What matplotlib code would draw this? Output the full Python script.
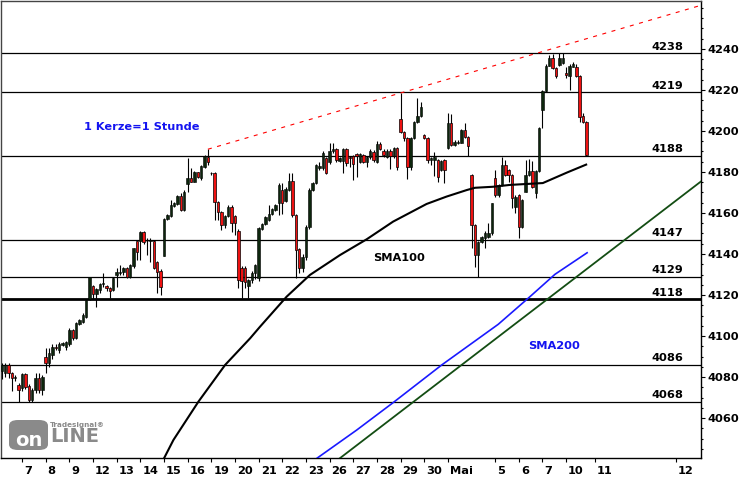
import matplotlib
matplotlib.use('Agg')
import matplotlib.pyplot as plt
import numpy as np
from matplotlib.patches import FancyBboxPatch
from matplotlib.ticker import MultipleLocator
import matplotlib.transforms as mtransforms

plt.rcParams['font.family'] = ['DejaVu Sans']
plt.rcParams['font.weight'] = 'bold'

# ---------------- data (hourly candles, index = candle number) ----------------
opens = [4083.0, 4082.0, 4086.0, 4082.0, 4079.5, 4076.0, 4074.5, 4081.5, 4075.8, 4068.8,
         4073.7, 4079.4, 4073.7, 4089.9, 4086.7, 4090.7, 4094.8, 4093.2, 4095.7, 4094.8,
         4096.1, 4103.0, 4098.9, 4106.0, 4107.0, 4109.4, 4118.2, 4124.4, 4120.5, 4122.4,
         4125.3, 4124.6, 4123.2, 4122.4, 4129.8, 4130.6, 4131.1, 4133.0, 4129.0, 4134.1,
         4146.3, 4146.3, 4150.6, 4146.3, 4146.3, 4146.3, 4135.9, 4131.7, 4139.2, 4157.1,
         4158.5, 4163.6, 4164.4, 4168.3, 4161.5, 4174.0, 4176.9, 4175.3, 4179.8, 4176.9,
         4182.6, 4187.5, 4179.4, 4179.4, 4165.5, 4160.6, 4154.1, 4158.5, 4163.1, 4158.5,
         4151.4, 4133.3, 4133.0, 4124.4, 4127.3, 4130.6, 4128.1, 4152.0, 4154.6, 4156.6,
         4159.5, 4161.5, 4164.7, 4171.0, 4166.0, 4171.0, 4175.6, 4159.0, 4142.3, 4133.0,
         4138.7, 4153.3, 4171.2, 4174.5, 4181.8, 4181.8, 4186.7, 4185.0, 4190.0, 4191.1,
         4185.5, 4185.5, 4191.1, 4187.5, 4187.8, 4188.8, 4185.0, 4188.3, 4185.0, 4187.2,
         4189.9, 4185.0, 4193.7, 4190.4, 4187.5, 4190.4, 4187.8, 4191.5, 4205.7, 4199.7,
         4196.4, 4182.6, 4196.4, 4204.6, 4207.3, 4198.0, 4196.4, 4185.9, 4185.9, 4185.9,
         4181.0, 4185.9, 4191.5, 4204.1, 4193.2, 4194.0, 4194.3, 4200.5, 4196.9, 4178.5,
         4154.1, 4139.5, 4146.0, 4147.6, 4148.5, 4150.1, 4176.9, 4168.8, 4173.7, 4183.4,
         4181.0, 4178.5, 4163.0, 4168.8, 4153.3, 4170.4, 4178.5, 4180.5, 4169.6, 4180.5,
         4210.0, 4219.5, 4231.9, 4235.5, 4230.6, 4232.2, 4233.0, 4228.5, 4227.0, 4231.4,
         4231.4, 4227.0, 4207.5, 4204.6]
highs = [4087.0, 4087.0, 4087.0, 4082.5, 4081.0, 4077.0, 4082.0, 4082.0, 4076.5, 4074.5,
         4081.8, 4082.0, 4081.0, 4094.0, 4094.0, 4096.0, 4096.0, 4097.0, 4097.0, 4097.5,
         4104.0, 4103.5, 4107.0, 4108.5, 4111.0, 4118.0, 4129.0, 4125.0, 4123.5, 4126.0,
         4130.6, 4125.0, 4124.0, 4129.0, 4133.0, 4134.6, 4133.5, 4133.5, 4135.0, 4143.0,
         4146.5, 4151.0, 4151.0, 4147.6, 4147.6, 4147.0, 4136.5, 4132.5, 4157.5, 4159.5,
         4166.3, 4165.5, 4169.0, 4169.6, 4171.0, 4186.7, 4181.8, 4180.5, 4180.2, 4183.5,
         4188.5, 4191.1, 4180.2, 4180.0, 4166.0, 4161.0, 4159.0, 4163.9, 4163.9, 4159.0,
         4152.0, 4134.0, 4134.0, 4128.0, 4131.5, 4135.0, 4153.0, 4155.0, 4158.5, 4163.9,
         4162.5, 4164.5, 4174.8, 4174.5, 4172.5, 4179.4, 4179.4, 4159.5, 4142.8, 4140.0,
         4154.0, 4172.0, 4175.0, 4184.0, 4185.0, 4190.4, 4187.5, 4194.0, 4194.3, 4191.5,
         4187.5, 4191.5, 4191.5, 4188.0, 4188.5, 4189.5, 4189.5, 4189.0, 4187.8, 4191.0,
         4190.5, 4195.0, 4194.5, 4191.0, 4191.0, 4191.0, 4192.0, 4192.0, 4218.4, 4200.2,
         4197.0, 4197.0, 4205.0, 4215.9, 4214.3, 4198.5, 4197.0, 4187.2, 4189.9, 4186.5,
         4186.0, 4186.5, 4208.9, 4208.3, 4195.5, 4195.5, 4201.0, 4203.7, 4197.5, 4179.0,
         4154.5, 4146.5, 4149.0, 4151.0, 4154.9, 4165.0, 4180.9, 4174.0, 4187.5, 4185.9,
         4181.5, 4179.0, 4169.0, 4169.5, 4167.0, 4185.9, 4186.3, 4185.5, 4181.0, 4202.0,
         4220.0, 4232.5, 4237.1, 4237.5, 4231.0, 4237.9, 4237.9, 4231.4, 4232.5, 4233.5,
         4232.5, 4227.5, 4208.6, 4205.0]
lows = [4079.0, 4080.0, 4079.4, 4073.0, 4078.0, 4068.0, 4073.0, 4074.0, 4068.0, 4068.0,
        4072.0, 4072.0, 4071.0, 4082.0, 4085.0, 4089.0, 4093.0, 4091.6, 4095.0, 4093.2,
        4095.0, 4098.0, 4098.5, 4105.5, 4106.5, 4109.0, 4117.5, 4118.0, 4114.3, 4121.0,
        4124.0, 4122.0, 4118.4, 4122.0, 4124.1, 4130.0, 4130.0, 4128.5, 4128.5, 4133.0,
        4137.1, 4137.1, 4145.0, 4139.5, 4136.3, 4132.5, 4120.8, 4120.0, 4139.0, 4156.5,
        4158.0, 4163.0, 4164.0, 4161.0, 4161.0, 4170.4, 4175.0, 4175.0, 4177.0, 4176.0,
        4182.0, 4183.5, 4178.5, 4156.6, 4156.6, 4151.7, 4152.5, 4158.0, 4150.9, 4149.3,
        4123.2, 4118.4, 4123.2, 4118.4, 4126.0, 4128.0, 4127.0, 4151.5, 4154.0, 4156.0,
        4159.0, 4161.0, 4159.0, 4159.5, 4165.5, 4170.5, 4158.0, 4128.1, 4130.6, 4131.0,
        4137.0, 4152.0, 4170.5, 4174.0, 4181.0, 4181.0, 4179.0, 4184.0, 4189.5, 4185.0,
        4185.0, 4179.4, 4182.9, 4182.3, 4176.1, 4177.4, 4184.5, 4184.5, 4182.3, 4186.5,
        4185.0, 4184.5, 4190.5, 4187.5, 4187.0, 4181.3, 4187.0, 4181.0, 4199.0, 4195.0,
        4176.4, 4181.0, 4196.0, 4204.0, 4207.0, 4196.0, 4184.2, 4183.4, 4178.0, 4175.3,
        4180.5, 4174.5, 4191.0, 4192.5, 4192.5, 4193.5, 4194.0, 4196.5, 4187.8, 4142.8,
        4133.8, 4128.9, 4145.5, 4142.8, 4148.0, 4149.5, 4168.0, 4168.0, 4173.0, 4178.0,
        4175.3, 4162.6, 4160.0, 4147.6, 4152.5, 4170.0, 4178.0, 4172.0, 4167.5, 4180.0,
        4201.3, 4219.0, 4231.5, 4230.0, 4225.7, 4231.5, 4232.5, 4225.7, 4220.0, 4231.0,
        4226.5, 4204.6, 4204.0, 4188.0]
closes = [4086.0, 4086.0, 4082.0, 4079.5, 4080.0, 4073.7, 4081.5, 4075.3, 4068.8, 4073.7,
          4079.4, 4073.7, 4080.2, 4086.7, 4091.6, 4094.8, 4094.0, 4096.1, 4096.4, 4096.9,
          4103.0, 4098.9, 4106.2, 4107.8, 4110.2, 4117.6, 4128.6, 4120.5, 4122.8, 4125.4,
          4125.8, 4123.3, 4122.1, 4128.1, 4131.1, 4131.0, 4133.0, 4129.0, 4134.6, 4142.8,
          4141.1, 4150.6, 4146.0, 4146.5, 4146.6, 4133.0, 4131.4, 4124.1, 4157.1, 4159.0,
          4163.9, 4165.0, 4168.3, 4161.5, 4170.4, 4176.9, 4175.3, 4179.8, 4177.4, 4182.9,
          4187.8, 4185.0, 4179.6, 4165.5, 4160.6, 4154.1, 4158.5, 4163.1, 4155.3, 4155.3,
          4127.3, 4127.0, 4126.5, 4127.3, 4130.9, 4134.6, 4152.5, 4154.6, 4157.9, 4159.5,
          4161.8, 4163.9, 4173.6, 4165.0, 4171.8, 4175.7, 4159.0, 4141.9, 4133.0, 4138.7,
          4153.3, 4171.2, 4174.5, 4183.4, 4182.9, 4189.4, 4179.7, 4190.4, 4191.1, 4185.9,
          4186.7, 4191.1, 4184.6, 4186.7, 4183.9, 4187.8, 4188.8, 4185.0, 4187.2, 4190.4,
          4185.9, 4193.7, 4191.1, 4188.3, 4190.4, 4187.8, 4191.5, 4182.6, 4199.7, 4196.4,
          4182.6, 4196.4, 4204.6, 4207.3, 4211.5, 4196.4, 4185.9, 4186.7, 4187.5, 4177.4,
          4185.5, 4181.0, 4204.1, 4193.2, 4194.8, 4194.8, 4200.5, 4196.9, 4192.7, 4154.1,
          4139.5, 4146.0, 4148.5, 4150.1, 4150.4, 4164.7, 4168.8, 4173.7, 4183.4, 4178.5,
          4178.5, 4167.5, 4168.0, 4153.3, 4166.3, 4178.5, 4180.5, 4172.8, 4180.5, 4201.3,
          4219.5, 4231.9, 4235.8, 4230.6, 4227.0, 4235.5, 4235.5, 4227.5, 4231.9, 4232.5,
          4227.0, 4207.0, 4204.6, 4188.3]
first_candle = 1

# moving averages (candle index, value)
sma100_x = [47.8, 49.0, 51.8, 59.2, 67.1, 74.5, 77.4, 85.3, 92.2, 101.1, 109.0, 116.8,
            126.7, 132.6, 138.6, 141.0, 146.4, 151.4, 161.1, 168.2, 174.2]
sma100_y = [4036.5, 4040.3, 4049.3, 4068.0, 4085.9, 4098.9, 4104.5, 4119.2, 4129.8, 4139.5,
            4147.2, 4155.8, 4164.4, 4168.0, 4171.2, 4172.3, 4172.8, 4173.7, 4174.6, 4179.7,
            4183.8]
sma200_x = [93.0, 94.2, 106.0, 116.8, 131.2, 147.9, 157.3, 164.7, 174.2]
sma200_y = [4036.2, 4040.3, 4054.1, 4067.5, 4085.9, 4105.7, 4119.2, 4130.1, 4140.6]

# trend lines
red_trend_x = [62.0, 207.9]
red_trend_y = [4191.1, 4261.3]
green_trend_x = [99.0, 207.9]
green_trend_y = [4037.8, 4175.4]

# horizontal levels
levels = [4238, 4219, 4188, 4147, 4129, 4118, 4086, 4068]
level_labels = ['4238', '4219', '4188', '4147', '4129', '4118', '4086', '4068']
thick_level = 4118

# x axis: day labels and the candle index of each day's first candle
day_labels = ['7', '8', '9', '12', '13', '14', '15', '16', '19', '20', '21', '22', '23',
              '26', '27', '28', '29', '30', 'Mai', '', '5', '6', '7', '10', '11', '12']
day_start = [7, 14, 21, 28, 35, 42, 49, 56, 63, 70, 77, 84, 91, 98, 105, 112, 119, 126,
             133, 140, 147, 154, 161, 168, 176.5, 200.5]

y_ticks = [4060, 4080, 4100, 4120, 4140, 4160, 4180, 4200, 4220, 4240]

# ---------------- figure ----------------
W, H = 750, 480
fig = plt.figure(figsize=(W / 100, H / 100), dpi=100)
ax = fig.add_axes([1 / W, 1 - 458 / H, 700 / W, 457 / H])
ax.set_xlim(0.78, 207.9)
ax.set_ylim(4040.5, 4263.4)

# levels
for lv in levels:
    ax.axhline(lv, color='black', lw=2.0 if lv == thick_level else 0.9, zorder=1)
for lv, lab in zip(levels, level_labels):
    ax.text(202.6, lv + 1.7, lab, ha='right', va='baseline', fontsize=8.2,
            fontweight='bold', color='black', zorder=6)

# candles
n = len(closes)
idx = np.arange(first_candle, first_candle + n)
o = np.array(opens); h = np.array(highs); l = np.array(lows); c = np.array(closes)
ax.vlines(idx, l, h, color='black', lw=0.8, zorder=3)
up = c >= o
body_bottom = np.minimum(o, c)
body_h = np.maximum(np.abs(c - o), 0.25)
ax.bar(idx[up], body_h[up], bottom=body_bottom[up], width=0.72, color='#0d260d',
       edgecolor='black', linewidth=0.4, zorder=4)
ax.bar(idx[~up], body_h[~up], bottom=body_bottom[~up], width=0.72, color='#ee1111',
       edgecolor='black', linewidth=0.5, zorder=4)

# moving averages and trend lines
ax.plot(sma100_x, sma100_y, color='black', lw=1.5, zorder=5, solid_capstyle='butt')
ax.plot(sma200_x, sma200_y, color='#1a1aff', lw=1.2, zorder=5)
ax.plot(green_trend_x, green_trend_y, color='#134d13', lw=1.3, zorder=5)
ax.plot(red_trend_x, red_trend_y, color='#ff0000', lw=0.8, linestyle=(0, (3.6, 5.0)), zorder=5)

# annotations
ax.text(42.4, 4202.0, '1 Kerze=1 Stunde', color='#1414f0', fontsize=8.2, fontweight='bold',
        ha='center', va='center', zorder=6)
ax.text(118.5, 4138.0, 'SMA100', color='black', fontsize=8.2, fontweight='bold',
        ha='center', va='center', zorder=6)
ax.text(164.5, 4095.0, 'SMA200', color='#1414f0', fontsize=8.2, fontweight='bold',
        ha='center', va='center', zorder=6)

# axes styling
for side in ['top', 'left']:
    ax.spines[side].set_color('#444444')
    ax.spines[side].set_linewidth(1.0)
for side in ['right', 'bottom']:
    ax.spines[side].set_color('black')
    ax.spines[side].set_linewidth(1.0)

ax.yaxis.tick_right()
ax.set_yticks(y_ticks)
ax.set_yticklabels([str(t) for t in y_ticks])
ax.yaxis.set_minor_locator(MultipleLocator(5))
ax.tick_params(axis='y', which='major', direction='out', length=3.2, width=0.8, pad=1.5,
               labelsize=8.2, colors='black')
ax.tick_params(axis='y', which='minor', direction='out', length=1.6, width=0.8, colors='black')
for lbl in ax.get_yticklabels():
    lbl.set_fontweight('bold')

tick_pos = [p for p, lab in zip(day_start, day_labels) if lab != '']
ax.set_xticks(tick_pos)
ax.set_xticklabels([''] * len(tick_pos))
ax.tick_params(axis='x', which='major', direction='out', length=3.2, width=0.8, colors='black')
trans = mtransforms.blended_transform_factory(ax.transData, ax.transAxes)
for p, lab in zip(day_start, day_labels):
    if lab:
        ax.text(p + 0.6, -0.0285, lab, transform=trans, ha='left', va='center',
                fontsize=8.2, fontweight='bold', color='black', clip_on=False)

# logo (bottom left)
def fx(px):
    return px / W

def fy(py):
    return 1 - py / H

logo = FancyBboxPatch((fx(9), fy(450)), fx(48) - fx(9), fy(420) - fy(450),
                      boxstyle='round,pad=0,rounding_size=0.012', transform=fig.transFigure,
                      facecolor='#8a8a8a', edgecolor='none', zorder=10)
fig.patches.append(logo)
fig.text(fx(28.5), fy(440), 'on', color='white', fontsize=14, fontweight='bold',
         ha='center', va='center', zorder=11)
fig.text(fx(50), fy(437), 'LINE', color='#8a8a8a', fontsize=14, fontweight='bold',
         ha='left', va='center', zorder=11)
fig.text(fx(50), fy(425), 'Tradesignal\u00ae', color='#8a8a8a', fontsize=5.2,
         fontweight='bold', ha='left', va='center', zorder=11)

fig.savefig('out.png', dpi=100)
